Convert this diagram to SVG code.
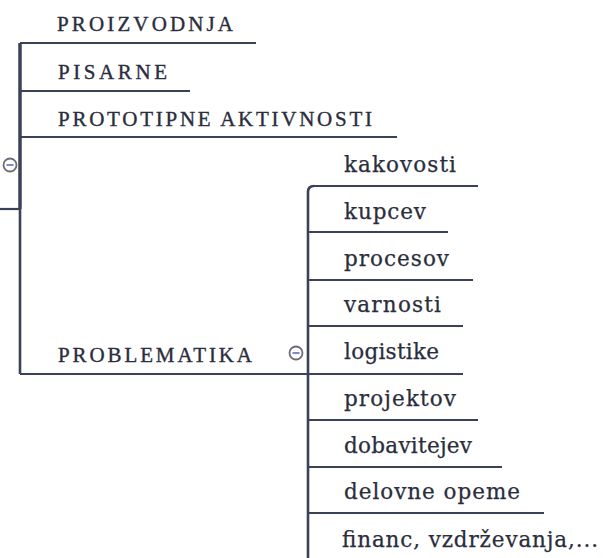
<svg xmlns="http://www.w3.org/2000/svg" width="612" height="558" viewBox="0 0 612 558">
<style>
.ln{stroke:#3b4258;stroke-width:2.2;fill:none;stroke-linecap:butt}
.vl{stroke:#3b4258;stroke-width:2.6;fill:none}
.up{font-family:"Liberation Serif","Times New Roman",serif;font-size:21px;fill:#2a2d3c;stroke:#2a2d3c;stroke-width:0.35}
.lo{font-family:"DejaVu Serif",serif;font-size:21.5px;fill:#2a2d3c;stroke:#2a2d3c;stroke-width:0.25}
.tog circle{fill:#fff;stroke:#6b6e78;stroke-width:1.8}
.tog line{stroke:#6d7fc4;stroke-width:1.8}
</style>
<rect width="612" height="558" fill="#fff"/>
<g id="connectors">
  <line class="ln" x1="0" y1="209" x2="20" y2="209"/>
  <line class="vl" x1="20" y1="43" x2="20" y2="209" style="stroke-width:3.5"/>
  <line class="vl" x1="20" y1="209" x2="20" y2="374"/>
  <path class="vl" d="M308 558 V192 Q308 186 314 186"/>
</g>
<g id="toggle-root" class="tog"><circle cx="10" cy="165" r="6.5"/><line x1="6.5" y1="165" x2="13.5" y2="165"/></g>
<g id="toggle-problematika" class="tog"><circle cx="296" cy="353" r="6.5"/><line x1="292.5" y1="353" x2="299.5" y2="353"/></g>
<g id="n-proizvodnja"><text class="up" x="57" y="31" textLength="176" lengthAdjust="spacing">PROIZVODNJA</text><line class="ln" x1="20" y1="43" x2="256" y2="43"/></g>
<g id="n-pisarne"><text class="up" x="58" y="79" textLength="109" lengthAdjust="spacing">PISARNE</text><line class="ln" x1="20" y1="91" x2="190" y2="91"/></g>
<g id="n-prototipne"><text class="up" x="58" y="126" textLength="314" lengthAdjust="spacing">PROTOTIPNE AKTIVNOSTI</text><line class="ln" x1="20" y1="137" x2="397" y2="137"/></g>
<g id="n-problematika"><text class="up" x="58" y="362" textLength="194" lengthAdjust="spacing">PROBLEMATIKA</text><line class="ln" x1="20" y1="374" x2="308" y2="374"/></g>
<g id="n-kakovosti"><text class="lo" x="344" y="172" textLength="112" lengthAdjust="spacing">kakovosti</text><line class="ln" x1="312" y1="186" x2="478" y2="186"/></g>
<g id="n-kupcev"><text class="lo" x="344" y="219" textLength="82" lengthAdjust="spacing">kupcev</text><line class="ln" x1="308" y1="232" x2="448" y2="232"/></g>
<g id="n-procesov"><text class="lo" x="344" y="266" textLength="105" lengthAdjust="spacing">procesov</text><line class="ln" x1="308" y1="280" x2="473" y2="280"/></g>
<g id="n-varnosti"><text class="lo" x="344" y="312" textLength="97" lengthAdjust="spacing">varnosti</text><line class="ln" x1="308" y1="326" x2="463" y2="326"/></g>
<g id="n-logistike"><text class="lo" x="344" y="359" textLength="95" lengthAdjust="spacing">logistike</text><line class="ln" x1="308" y1="374" x2="463" y2="374"/></g>
<g id="n-projektov"><text class="lo" x="344" y="406" textLength="112" lengthAdjust="spacing">projektov</text><line class="ln" x1="308" y1="420" x2="478" y2="420"/></g>
<g id="n-dobavitejev"><text class="lo" x="344" y="453" textLength="128" lengthAdjust="spacing">dobavitejev</text><line class="ln" x1="308" y1="467" x2="502" y2="467"/></g>
<g id="n-delovne"><text class="lo" x="344" y="499" textLength="176" lengthAdjust="spacing">delovne opeme</text><line class="ln" x1="308" y1="513" x2="544" y2="513"/></g>
<g id="n-financ"><text class="lo" x="342" y="547" textLength="256" lengthAdjust="spacing">financ, vzdrževanja,...</text></g>
</svg>
